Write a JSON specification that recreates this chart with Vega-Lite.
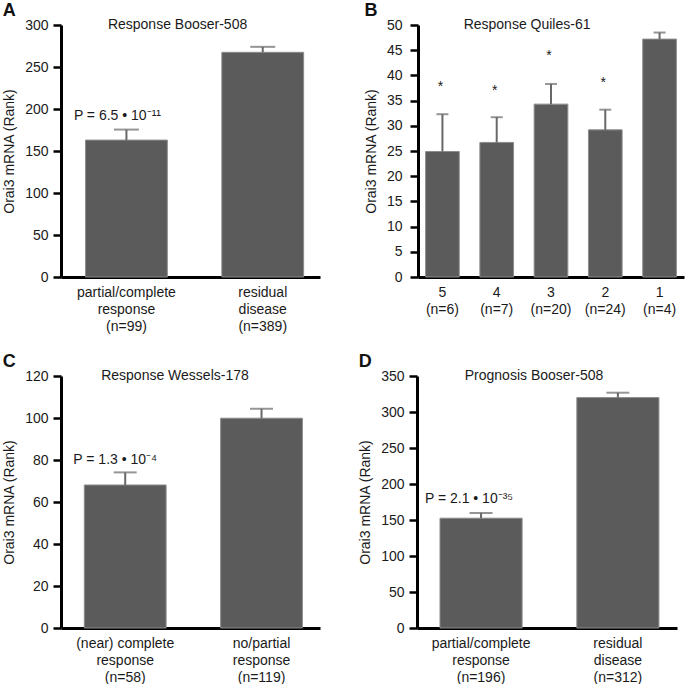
{
  "$schema": "https://vega.github.io/schema/vega-lite/v6.json",
  "padding": {"left": 2, "top": 2, "right": 2, "bottom": 0},
  "background": "white",
  "datasets": {
    "bars": [
      {"panel": "A", "group": "partial/complete|response|(n=99)", "value": 163, "err": 175.5},
      {"panel": "A", "group": "residual|disease|(n=389)", "value": 267.5, "err": 274},
      {"panel": "B", "group": "5|(n=6)", "value": 24.9, "err": 32.3},
      {"panel": "B", "group": "4|(n=7)", "value": 26.7, "err": 31.7},
      {"panel": "B", "group": "3|(n=20)", "value": 34.3, "err": 38.3},
      {"panel": "B", "group": "2|(n=24)", "value": 29.2, "err": 33.2},
      {"panel": "B", "group": "1|(n=4)", "value": 47.2, "err": 48.5},
      {"panel": "C", "group": "(near) complete|response|(n=58)", "value": 68.1, "err": 74.1},
      {"panel": "C", "group": "no/partial|response|(n=119)", "value": 99.9, "err": 104.4},
      {"panel": "D", "group": "partial/complete|response|(n=196)", "value": 152.5, "err": 159.7},
      {"panel": "D", "group": "residual|disease|(n=312)", "value": 320, "err": 326.8}
    ],
    "notes": [
      {"panel": "A", "group": "partial/complete|response|(n=99)", "y": 187, "text": "P = 6.5 • 10⁻¹¹"},
      {"panel": "B", "group": "5|(n=6)", "y": 36.9, "text": "*"},
      {"panel": "B", "group": "4|(n=7)", "y": 36.2, "text": "*"},
      {"panel": "B", "group": "3|(n=20)", "y": 43.0, "text": "*"},
      {"panel": "B", "group": "2|(n=24)", "y": 37.7, "text": "*"},
      {"panel": "C", "group": "(near) complete|response|(n=58)", "y": 78, "text": "P = 1.3 • 10⁻⁴"},
      {"panel": "D", "group": "partial/complete|response|(n=196)", "y": 173.6, "text": "P = 2.1 • 10⁻³⁵"}
    ],
    "titles": [
      {"panel": "A", "title": "Response Booser-508"},
      {"panel": "B", "title": "Response Quiles-61"},
      {"panel": "C", "title": "Response Wessels-178"},
      {"panel": "D", "title": "Prognosis Booser-508"}
    ]
  },
  "vconcat": [
    {
      "hconcat": [
        {
          "width": 259, "height": 252,
          "title": {"text": "A"},
          "layer": [
            {
              "layer": [
                {
                  "data": {"name": "bars"}, "transform": [{"filter": "datum.panel === 'A'"}],
                  "mark": {"type": "bar", "fill": "#5b5b5b", "stroke": "#8c8c8c", "strokeWidth": 1},
                  "encoding": {
                    "x": {"field": "group", "type": "nominal", "sort": null, "scale": {"paddingInner": 0.4, "paddingOuter": 0.15, "align": 0.6}, "axis": {"title": null, "labelExpr": "split(datum.label, '|')"}},
                    "y": {"field": "value", "type": "quantitative", "scale": {"domain": [0, 300], "nice": false}, "axis": {"title": "Orai3 mRNA (Rank)", "values": [0, 50, 100, 150, 200, 250, 300], "tickCount": 7, "labelOverlap": false}}
                  }
                },
                {
                  "data": {"name": "bars"}, "transform": [{"filter": "datum.panel === 'A'"}],
                  "mark": {"type": "rule", "color": "#686868", "strokeWidth": 2},
                  "encoding": {"x": {"field": "group", "type": "nominal", "sort": null}, "y": {"field": "value", "type": "quantitative"}, "y2": {"field": "err"}}
                },
                {
                  "data": {"name": "bars"}, "transform": [{"filter": "datum.panel === 'A'"}],
                  "mark": {"type": "tick", "color": "#686868", "thickness": 2, "size": 25, "orient": "horizontal"},
                  "encoding": {"x": {"field": "group", "type": "nominal", "sort": null}, "y": {"field": "err", "type": "quantitative"}}
                },
                {
                  "data": {"name": "notes"}, "transform": [{"filter": "datum.panel === 'A'"}],
                  "mark": {"type": "text", "fontSize": 14, "baseline": "alphabetic", "dx": -9, "color": "#1a1a1a"},
                  "encoding": {"x": {"field": "group", "type": "nominal", "sort": null}, "y": {"field": "y", "type": "quantitative"}, "text": {"field": "text"}}
                }
              ]
            },
            {
              "data": {"name": "titles"}, "transform": [{"filter": "datum.panel === 'A'"}],
              "mark": {"type": "text", "fontSize": 14, "baseline": "middle", "color": "#1a1a1a"},
              "encoding": {"x": {"datum": 0.45, "type": "quantitative", "scale": {"domain": [0, 1]}, "axis": null}, "y": {"datum": 300, "type": "quantitative"}, "text": {"field": "title"}}
            }
          ],
          "resolve": {"scale": {"x": "independent"}}
        },
        {
          "width": 266, "height": 252,
          "title": {"text": "B"},
          "layer": [
            {
              "layer": [
                {
                  "data": {"name": "bars"}, "transform": [{"filter": "datum.panel === 'B'"}],
                  "mark": {"type": "bar", "fill": "#5b5b5b", "stroke": "#8c8c8c", "strokeWidth": 1},
                  "encoding": {
                    "x": {"field": "group", "type": "nominal", "sort": null, "scale": {"paddingInner": 0.38, "paddingOuter": 0.14}, "axis": {"title": null, "labelExpr": "split(datum.label, '|')"}},
                    "y": {"field": "value", "type": "quantitative", "scale": {"domain": [0, 50], "nice": false}, "axis": {"title": "Orai3 mRNA (Rank)", "values": [0, 5, 10, 15, 20, 25, 30, 35, 40, 45, 50], "tickCount": 11, "labelPadding": 8, "labelOverlap": false}}
                  }
                },
                {
                  "data": {"name": "bars"}, "transform": [{"filter": "datum.panel === 'B'"}],
                  "mark": {"type": "rule", "color": "#686868", "strokeWidth": 2},
                  "encoding": {"x": {"field": "group", "type": "nominal", "sort": null}, "y": {"field": "value", "type": "quantitative"}, "y2": {"field": "err"}}
                },
                {
                  "data": {"name": "bars"}, "transform": [{"filter": "datum.panel === 'B'"}],
                  "mark": {"type": "tick", "color": "#686868", "thickness": 2, "size": 12, "orient": "horizontal"},
                  "encoding": {"x": {"field": "group", "type": "nominal", "sort": null}, "y": {"field": "err", "type": "quantitative"}}
                },
                {
                  "data": {"name": "notes"}, "transform": [{"filter": "datum.panel === 'B'"}],
                  "mark": {"type": "text", "fontSize": 14, "baseline": "alphabetic", "dx": -2, "color": "#1a1a1a"},
                  "encoding": {"x": {"field": "group", "type": "nominal", "sort": null}, "y": {"field": "y", "type": "quantitative"}, "text": {"field": "text"}}
                }
              ]
            },
            {
              "data": {"name": "titles"}, "transform": [{"filter": "datum.panel === 'B'"}],
              "mark": {"type": "text", "fontSize": 14, "baseline": "middle", "color": "#1a1a1a"},
              "encoding": {"x": {"datum": 0.41, "type": "quantitative", "scale": {"domain": [0, 1]}, "axis": null}, "y": {"datum": 50, "type": "quantitative"}, "text": {"field": "title"}}
            }
          ],
          "resolve": {"scale": {"x": "independent"}}
        }
      ],
      "spacing": 44
    },
    {
      "hconcat": [
        {
          "width": 259, "height": 252,
          "title": {"text": "C"},
          "layer": [
            {
              "layer": [
                {
                  "data": {"name": "bars"}, "transform": [{"filter": "datum.panel === 'C'"}],
                  "mark": {"type": "bar", "fill": "#5b5b5b", "stroke": "#8c8c8c", "strokeWidth": 1},
                  "encoding": {
                    "x": {"field": "group", "type": "nominal", "sort": null, "scale": {"paddingInner": 0.4, "paddingOuter": 0.15, "align": 0.57}, "axis": {"title": null, "labelExpr": "split(datum.label, '|')"}},
                    "y": {"field": "value", "type": "quantitative", "scale": {"domain": [0, 120], "nice": false}, "axis": {"title": "Orai3 mRNA (Rank)", "values": [0, 20, 40, 60, 80, 100, 120], "tickCount": 7, "labelOverlap": false}}
                  }
                },
                {
                  "data": {"name": "bars"}, "transform": [{"filter": "datum.panel === 'C'"}],
                  "mark": {"type": "rule", "color": "#686868", "strokeWidth": 2},
                  "encoding": {"x": {"field": "group", "type": "nominal", "sort": null}, "y": {"field": "value", "type": "quantitative"}, "y2": {"field": "err"}}
                },
                {
                  "data": {"name": "bars"}, "transform": [{"filter": "datum.panel === 'C'"}],
                  "mark": {"type": "tick", "color": "#686868", "thickness": 2, "size": 23, "orient": "horizontal"},
                  "encoding": {"x": {"field": "group", "type": "nominal", "sort": null}, "y": {"field": "err", "type": "quantitative"}}
                },
                {
                  "data": {"name": "notes"}, "transform": [{"filter": "datum.panel === 'C'"}],
                  "mark": {"type": "text", "fontSize": 14, "baseline": "alphabetic", "dx": -10, "color": "#1a1a1a"},
                  "encoding": {"x": {"field": "group", "type": "nominal", "sort": null}, "y": {"field": "y", "type": "quantitative"}, "text": {"field": "text"}}
                }
              ]
            },
            {
              "data": {"name": "titles"}, "transform": [{"filter": "datum.panel === 'C'"}],
              "mark": {"type": "text", "fontSize": 14, "baseline": "middle", "color": "#1a1a1a"},
              "encoding": {"x": {"datum": 0.44, "type": "quantitative", "scale": {"domain": [0, 1]}, "axis": null}, "y": {"datum": 120, "type": "quantitative"}, "text": {"field": "title"}}
            }
          ],
          "resolve": {"scale": {"x": "independent"}}
        },
        {
          "width": 260, "height": 252,
          "title": {"text": "D"},
          "layer": [
            {
              "layer": [
                {
                  "data": {"name": "bars"}, "transform": [{"filter": "datum.panel === 'D'"}],
                  "mark": {"type": "bar", "fill": "#5b5b5b", "stroke": "#8c8c8c", "strokeWidth": 1},
                  "encoding": {
                    "x": {"field": "group", "type": "nominal", "sort": null, "scale": {"paddingInner": 0.4, "paddingOuter": 0.15, "align": 0.56}, "axis": {"title": null, "labelExpr": "split(datum.label, '|')"}},
                    "y": {"field": "value", "type": "quantitative", "scale": {"domain": [0, 350], "nice": false}, "axis": {"title": "Orai3 mRNA (Rank)", "values": [0, 50, 100, 150, 200, 250, 300, 350], "tickCount": 8, "labelOverlap": false}}
                  }
                },
                {
                  "data": {"name": "bars"}, "transform": [{"filter": "datum.panel === 'D'"}],
                  "mark": {"type": "rule", "color": "#686868", "strokeWidth": 2},
                  "encoding": {"x": {"field": "group", "type": "nominal", "sort": null}, "y": {"field": "value", "type": "quantitative"}, "y2": {"field": "err"}}
                },
                {
                  "data": {"name": "bars"}, "transform": [{"filter": "datum.panel === 'D'"}],
                  "mark": {"type": "tick", "color": "#686868", "thickness": 2, "size": 23, "orient": "horizontal"},
                  "encoding": {"x": {"field": "group", "type": "nominal", "sort": null}, "y": {"field": "err", "type": "quantitative"}}
                },
                {
                  "data": {"name": "notes"}, "transform": [{"filter": "datum.panel === 'D'"}],
                  "mark": {"type": "text", "fontSize": 14, "baseline": "alphabetic", "dx": -12, "color": "#1a1a1a"},
                  "encoding": {"x": {"field": "group", "type": "nominal", "sort": null}, "y": {"field": "y", "type": "quantitative"}, "text": {"field": "text"}}
                }
              ]
            },
            {
              "data": {"name": "titles"}, "transform": [{"filter": "datum.panel === 'D'"}],
              "mark": {"type": "text", "fontSize": 14, "baseline": "middle", "color": "#1a1a1a"},
              "encoding": {"x": {"datum": 0.45, "type": "quantitative", "scale": {"domain": [0, 1]}, "axis": null}, "y": {"datum": 350, "type": "quantitative"}, "text": {"field": "title"}}
            }
          ],
          "resolve": {"scale": {"x": "independent"}}
        }
      ],
      "spacing": 38
    }
  ],
  "spacing": 20,
  "config": {
    "font": "Liberation Sans",
    "view": {"stroke": null},
    "title": {"anchor": "start", "frame": "bounds", "fontSize": 18, "fontWeight": "bold", "font": "Liberation Sans", "offset": -2, "color": "#111111"},
    "text": {"font": "Liberation Sans"},
    "axis": {
      "labelFont": "Liberation Sans", "titleFont": "Liberation Sans",
      "labelFontSize": 14, "titleFontSize": 14, "titleFontWeight": "normal",
      "labelColor": "#1a1a1a", "titleColor": "#1a1a1a",
      "domainColor": "#000000", "domainWidth": 3,
      "tickColor": "#000000", "tickWidth": 2.5, "tickSize": 8,
      "grid": false, "labelOverlap": false
    },
    "axisX": {"ticks": false, "labelAngle": 0, "labelPadding": 8, "labelLineHeight": 17},
    "axisY": {"labelPadding": 5, "titlePadding": 8}
  }
}
